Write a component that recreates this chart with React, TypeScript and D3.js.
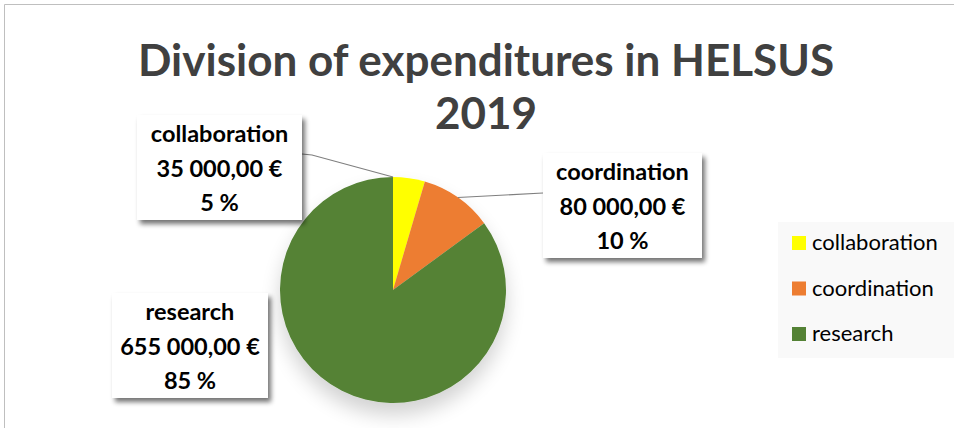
import React from "react";
import * as d3 from "d3";

const categories = ["collaboration", "coordination", "research"];
const values = [35000, 80000, 655000];
const percentLabels = ["5 %", "10 %", "85 %"];
const valueLabels = ["35 000,00 €", "80 000,00 €", "655 000,00 €"];
const colors = ["#FFFF00", "#ED7D31", "#548235"];
const titleLines = ["Division of expenditures in HELSUS", "2019"];

const W = 954, H = 428;
const cx = 393, cy = 290, R = 113;

// label boxes (layout)
const boxes = [
  { x: 137, y: 115, w: 165, h: 105 },
  { x: 543, y: 153, w: 159, h: 105 },
  { x: 112, y: 293, w: 156, h: 105 },
];

export default function App() {
  const pie = d3.pie<number>().sort(null).value((d) => d)(values);
  const arc = d3.arc<d3.PieArcDatum<number>>().innerRadius(0).outerRadius(R);
  const font = "Lato, 'Open Sans', sans-serif";

  const pt = (angle: number, r: number) => [cx + r * Math.sin(angle), cy - r * Math.cos(angle)];
  const a0 = pie[0];
  const a1 = pie[1];
  const p0 = pt(a0.startAngle, R);
  const p1 = pt((a1.startAngle + a1.endAngle) / 2, R);

  return (
    <svg width={W} height={H} style={{ position: "absolute", left: 0, top: 0, background: "#fff" }}>
      <defs>
        <filter id="boxShadow" x="-20%" y="-20%" width="150%" height="150%">
          <feGaussianBlur in="SourceAlpha" stdDeviation="2.5" />
          <feOffset dx="3" dy="4" result="ob" />
          <feComponentTransfer><feFuncA type="linear" slope="0.55" /></feComponentTransfer>
          <feMerge><feMergeNode /><feMergeNode in="SourceGraphic" /></feMerge>
        </filter>
        <filter id="pieShadow" x="-40%" y="-40%" width="180%" height="190%">
          <feGaussianBlur in="SourceAlpha" stdDeviation="10" />
          <feOffset dx="0" dy="12" />
          <feComponentTransfer><feFuncA type="linear" slope="0.18" /></feComponentTransfer>
          <feMerge><feMergeNode /><feMergeNode in="SourceGraphic" /></feMerge>
        </filter>
      </defs>
      <line x1={4.5} y1={4.5} x2={W} y2={4.5} stroke="#bfbfbf" strokeWidth={1} />
      <line x1={4.5} y1={4.5} x2={4.5} y2={H} stroke="#bfbfbf" strokeWidth={1} />

      <g fontFamily={font} fontWeight="bold" fill="#404040" fontSize={44} textAnchor="middle">
        <text x={486} y={76}>{titleLines[0]}</text>
        <text x={486} y={129}>{titleLines[1]}</text>
      </g>

      <g filter="url(#pieShadow)">
        <g transform={`translate(${cx},${cy})`}>
          {pie.map((d, i) => (
            <path key={i} d={arc(d) || ""} fill={colors[i]} />
          ))}
        </g>
      </g>

      <polyline points={`${boxes[0].x + boxes[0].w},154 312,155 ${p0[0]},${p0[1]}`} fill="none" stroke="#7f7f7f" strokeWidth={1.2} />
      <polyline points={`${p1[0]},${p1[1]} ${boxes[1].x},193`} fill="none" stroke="#7f7f7f" strokeWidth={1.2} />

      {boxes.map((b, i) => (
        <g key={i}>
          <rect x={b.x} y={b.y} width={b.w} height={b.h} fill="#fff" filter="url(#boxShadow)" />
          <g fontFamily={font} fontWeight="bold" fontSize={23.5} fill="#000" textAnchor="middle">
            <text x={b.x + b.w / 2} y={b.y + 27}>{categories[i]}</text>
            <text x={b.x + b.w / 2} y={b.y + 62}>{valueLabels[i]}</text>
            <text x={b.x + b.w / 2} y={b.y + 96}>{percentLabels[i]}</text>
          </g>
        </g>
      ))}

      <rect x={778} y={222} width={176} height={136} fill="#f9f9f9" />
      {categories.map((c, i) => (
        <g key={c}>
          <rect x={792} y={236 + i * 45.5} width={14} height={14} fill={colors[i]} />
          <text x={812} y={250 + i * 45.5} fontFamily={font} fontSize={22} fill="#000">{c}</text>
        </g>
      ))}
    </svg>
  );
}
